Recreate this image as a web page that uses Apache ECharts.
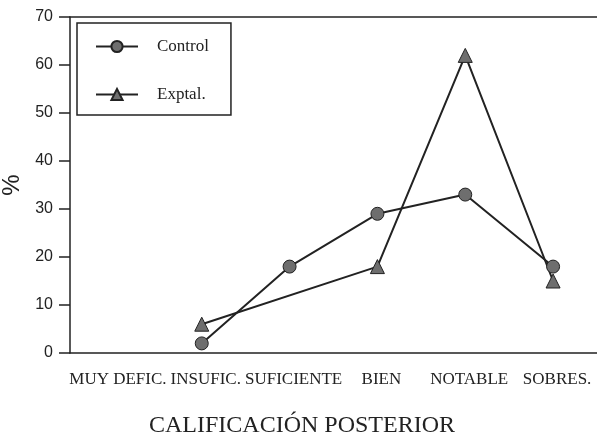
<!DOCTYPE html>
<html>
<head>
<meta charset="utf-8">
<script src="https://cdn.jsdelivr.net/npm/echarts@6/dist/echarts.min.js"></script>
<style>
  html, body { margin: 0; padding: 0; background: #fff; }
  #chart { width: 597px; height: 432px; }
</style>
</head>
<body>
<div id="chart"></div>
<script>
const categories = ['MUY DEFIC.', 'INSUFIC.', 'SUFICIENTE', 'BIEN', 'NOTABLE', 'SOBRES.'];
const controlValues = [null, 2, 18, 29, 33, 18];
const exptalValues = [null, 6, null, 18, 62, 15];
const yTicks = { min: 0, max: 70, step: 10 };

const ink = '#222';
const serif = 'Liberation Serif';
const sans = 'Liberation Sans';

const myChart = echarts.init(document.getElementById('chart'));

const option = {
  backgroundColor: '#fff',
  animation: false,
  grid: { left: 70, right: 0, top: 17, bottom: 79, outerBoundsMode: 'none' },
  legend: {
    orient: 'vertical',
    left: 77,
    top: 23,
    padding: [15, 22, 12, 18],
    itemWidth: 42,
    itemHeight: 14,
    itemGap: 31,
    borderColor: ink,
    borderWidth: 1.5,
    textStyle: { fontFamily: serif, fontSize: 17, color: ink, padding: [0, 0, 0, 14] },
    data: ['Control', 'Exptal.']
  },
  xAxis: [
    {
      type: 'category',
      data: categories,
      boundaryGap: true,
      name: 'CALIFICACIÓN POSTERIOR',
      nameLocation: 'middle',
      nameGap: 61,
      nameTextStyle: { fontFamily: serif, fontSize: 24, color: ink, padding: [0, 63, 0, 0] },
      axisLine: { lineStyle: { color: ink, width: 1.5 } },
      axisTick: { alignWithLabel: true, length: 10, lineStyle: { color: ink, width: 1.5 } },
      axisLabel: { interval: 0, margin: 18, fontFamily: serif, fontSize: 17, color: ink, padding: [0, 0, 0, 8] },
      splitLine: { show: false }
    },
    {
      type: 'category',
      position: 'top',
      data: categories,
      axisLine: { lineStyle: { color: ink, width: 1.5 } },
      axisTick: { show: false },
      axisLabel: { show: false },
      splitLine: { show: false }
    }
  ],
  yAxis: {
    type: 'value',
    min: yTicks.min,
    max: yTicks.max,
    interval: yTicks.step,
    name: '%',
    nameLocation: 'middle',
    nameGap: 37,
    nameTextStyle: { fontFamily: sans, fontSize: 24, color: ink },
    axisLine: { show: true, lineStyle: { color: ink, width: 1.5 } },
    axisTick: { show: true, length: 11, lineStyle: { color: ink, width: 1.5 } },
    axisLabel: { margin: 17, fontFamily: sans, fontSize: 16, color: ink },
    splitLine: { show: false }
  },
  series: [
    {
      name: 'Control',
      type: 'line',
      data: controlValues,
      symbol: 'circle',
      symbolSize: 13,
      showAllSymbol: true,
      lineStyle: { color: ink, width: 2 },
      itemStyle: { color: '#6e6e6e', borderColor: ink, borderWidth: 1 }
    },
    {
      name: 'Exptal.',
      type: 'line',
      data: exptalValues,
      connectNulls: true,
      symbol: 'triangle',
      symbolSize: 14,
      showAllSymbol: true,
      lineStyle: { color: ink, width: 2 },
      itemStyle: { color: '#6e6e6e', borderColor: ink, borderWidth: 1 }
    }
  ]
};

myChart.setOption(option);
</script>
</body>
</html>
